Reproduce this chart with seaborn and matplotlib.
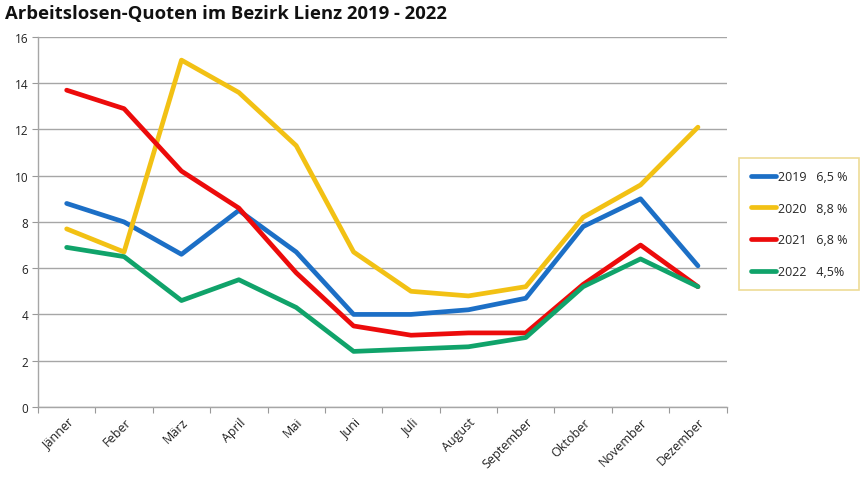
import matplotlib
matplotlib.use("Agg")
import matplotlib.pyplot as plt
import seaborn as sns
import pandas as pd
from matplotlib.lines import Line2D

months = ["Jänner", "Feber", "März", "April", "Mai", "Juni", "Juli", "August",
          "September", "Oktober", "November", "Dezember"]
years = ["2019", "2020", "2021", "2022"]
averages = ["6,5 %", "8,8 %", "6,8 %", "4,5%"]
q2019 = [8.8, 8.0, 6.6, 8.5, 6.7, 4.0, 4.0, 4.2, 4.7, 7.8, 9.0, 6.1]
q2020 = [7.7, 6.7, 15.0, 13.6, 11.3, 6.7, 5.0, 4.8, 5.2, 8.2, 9.6, 12.1]
q2021 = [13.7, 12.9, 10.2, 8.6, 5.8, 3.5, 3.1, 3.2, 3.2, 5.3, 7.0, 5.2]
q2022 = [6.9, 6.5, 4.6, 5.5, 4.3, 2.4, 2.5, 2.6, 3.0, 5.2, 6.4, 5.2]
series = [q2019, q2020, q2021, q2022]
colors = ["#1c6fc6", "#f2c114", "#ec0b0b", "#10a36a"]

rows = []
for y, vals in zip(years, series):
    for i, v in enumerate(vals):
        rows.append({"idx": i, "Monat": months[i], "Jahr": y, "Quote": v})
df = pd.DataFrame(rows)

sns.set_theme(style="white")
plt.rcParams["font.family"] = ["Open Sans", "DejaVu Sans"]

fig = plt.figure(figsize=(8.63, 4.81), dpi=100)
ax = fig.add_axes([0.044, 0.152, 0.798, 0.769])

sns.lineplot(data=df, x="idx", y="Quote", hue="Jahr", palette=colors,
             linewidth=3.4, legend=False, ax=ax, sort=False,
             solid_capstyle="round", solid_joinstyle="round")

ax.set_xlim(-0.5, 11.5)
ax.set_ylim(0, 16)
ax.set_yticks(range(0, 17, 2))
ax.set_xticks(range(12))
ax.set_xticklabels(months, rotation=45, ha="right", rotation_mode="anchor",
                   fontsize=9, color="#222222")
ax.set_xticks([i - 0.5 for i in range(13)], minor=True)
ax.tick_params(axis="x", which="major", length=0, pad=6)
ax.tick_params(axis="x", which="minor", length=4, color="#999999", width=0.8,
               direction="out", bottom=True)
ax.tick_params(axis="y", length=4, color="#999999", width=0.8, direction="out",
               left=True, labelsize=8.5, labelcolor="#222222", pad=3)
ax.grid(axis="y", color="#a6a6a6", linewidth=1.0)
ax.set_axisbelow(True)
for s in ["top", "right"]:
    ax.spines[s].set_visible(False)
for s in ["left", "bottom"]:
    ax.spines[s].set_color("#a6a6a6")
    ax.spines[s].set_linewidth(1.0)
ax.set_xlabel("")
ax.set_ylabel("")

fig.text(0.006, 0.97, "Arbeitslosen-Quoten im Bezirk Lienz 2019 - 2022",
         fontsize=13.3, fontweight="bold", ha="left", va="center", color="#111111")

handles = [Line2D([0], [0], color=c, linewidth=3.4, solid_capstyle="round")
           for c in colors]
labels = [f"{y}   {a}" for y, a in zip(years, averages)]
leg = fig.legend(handles, labels, loc="center left",
                 bbox_to_anchor=(0.856, 0.532), frameon=True, fontsize=9,
                 handlelength=2.0, handletextpad=0.2, labelspacing=1.5,
                 borderpad=0.95, fancybox=False, borderaxespad=0)
leg.get_frame().set_edgecolor("#e9d27c")
leg.get_frame().set_linewidth(1.2)

fig.savefig("out.png", dpi=100)
